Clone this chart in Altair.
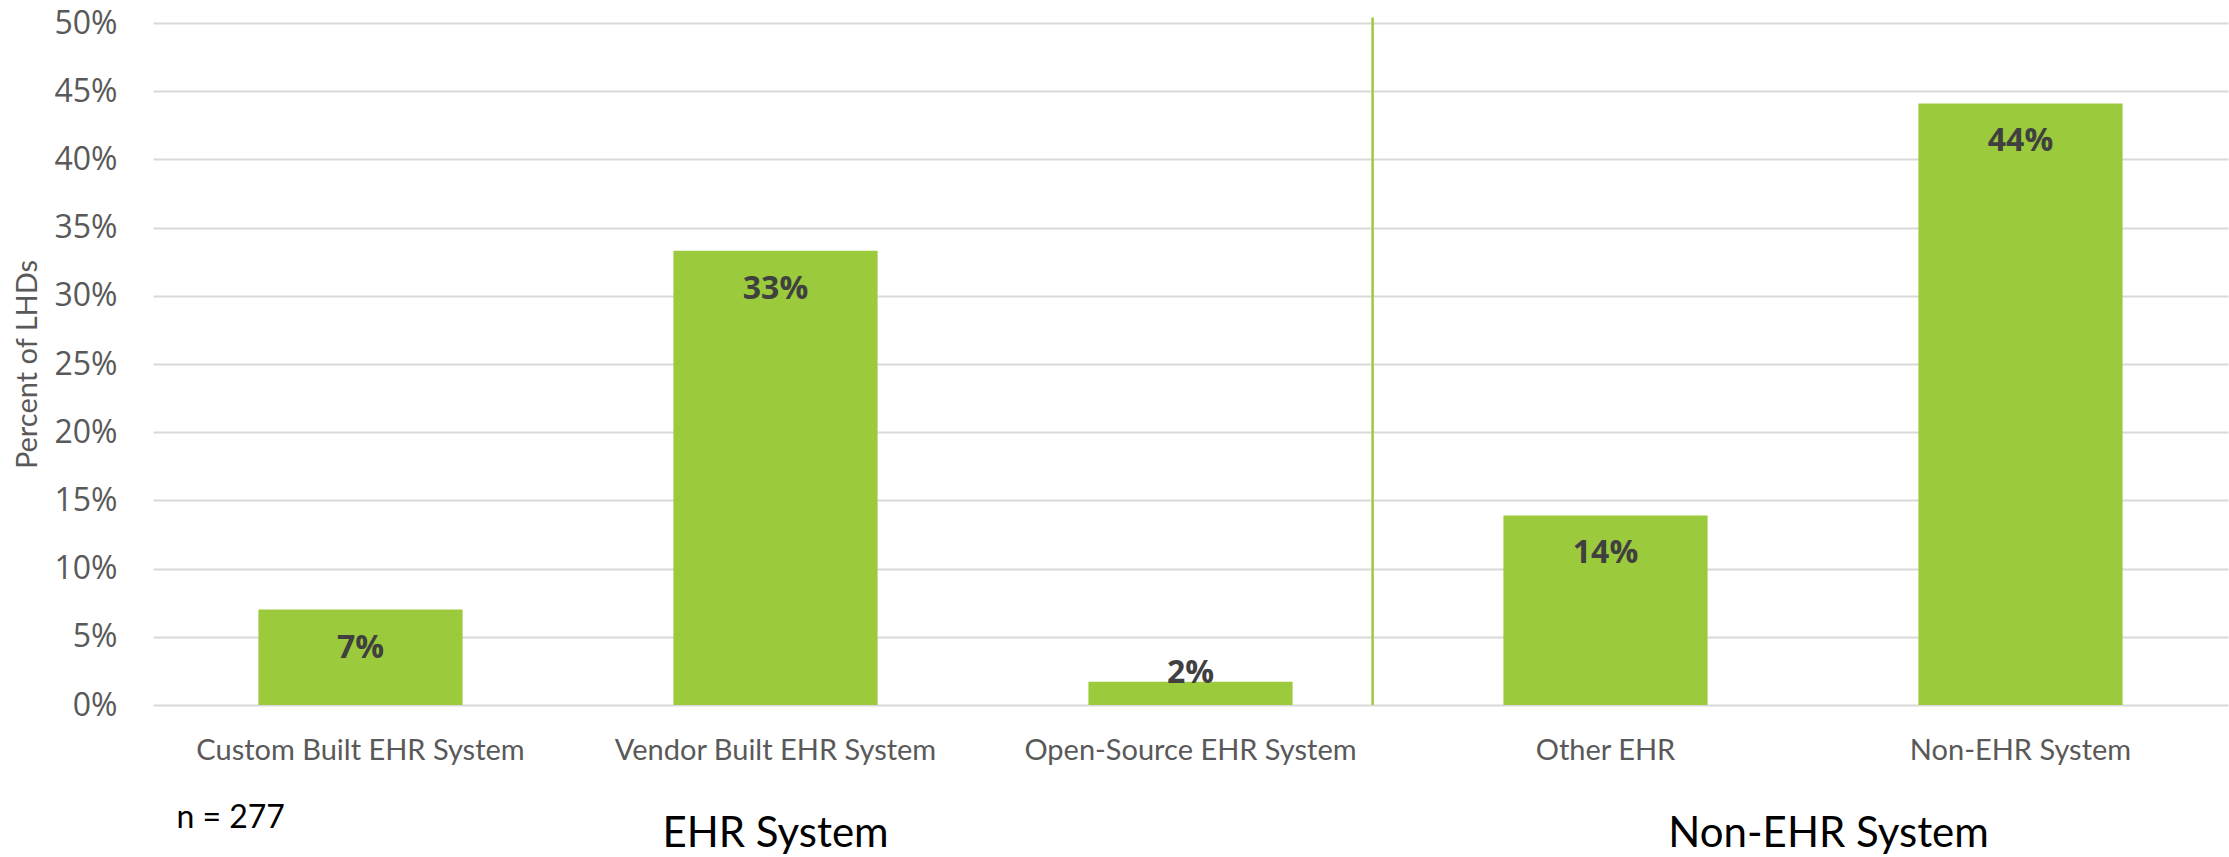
import altair as alt
import pandas as pd

# ---- data ----
categories = ["Custom Built EHR System", "Vendor Built EHR System",
              "Open-Source EHR System", "Other EHR", "Non-EHR System"]
values = [7.0, 33.3, 1.7, 13.9, 44.1]
y_ticks = [0, 5, 10, 15, 20, 25, 30, 35, 40, 45, 50]
group_labels = ["EHR System", "Non-EHR System"]
group_anchor = ["Vendor Built EHR System", "Other EHR"]
note_text = ["n = 277"]
divider_after = ["Open-Source EHR System"]

df = pd.DataFrame({"category": categories, "value": values})
df["label"] = [f"{round(v)}%" for v in values]
g_ehr = pd.DataFrame({"category": [group_anchor[0]], "text": [group_labels[0]]})
g_non = pd.DataFrame({"category": [group_anchor[1]], "text": [group_labels[1]]})
note = pd.DataFrame({"category": [categories[0]], "text": note_text})
divider = pd.DataFrame({"category": divider_after})

W, H = 2075, 682
GREEN = "#9BCB3C"
GREY = "#595959"

xscale = alt.Scale(domain=categories, paddingInner=0.508, paddingOuter=0.254)
xaxis = alt.Axis(title=None, labelFont="Lato", labelFontSize=29, labelColor=GREY,
                 labelPadding=31, ticks=False, domain=False, labelAngle=0,
                 grid=False, labelLimit=0)
yscale = alt.Scale(domain=[0, 50], nice=False, zero=True)
yaxis = alt.Axis(values=y_ticks, labelExpr="datum.value + '%'", labelFont="Open Sans",
                 labelFontSize=32, labelColor=GREY, labelPadding=36, ticks=False,
                 domain=False, gridColor="#D9D9D9", gridWidth=2,
                 title="Percent of LHDs", titleFont="Lato", titleFontSize=29,
                 titleFontWeight="normal", titleColor=GREY, titleX=-126, titleY=H / 2,
                 titleAngle=270, titleAlign="center", titleBaseline="middle")


def X(**kw):
    return alt.X("category:N", sort=categories, scale=xscale, axis=xaxis, **kw)


Y = alt.Y("value:Q", scale=yscale, axis=yaxis)

bars = alt.Chart(df).mark_bar(color=GREEN).encode(x=X(), y=Y)

lab_tall = alt.Chart(df).transform_filter("datum.value > 5").mark_text(
    font="Open Sans", fontSize=32, fontWeight="bold", color="#404040",
    baseline="alphabetic", dy=48).encode(x=X(), y=Y, text="label:N")
lab_short = alt.Chart(df).transform_filter("datum.value <= 5").mark_text(
    font="Open Sans", fontSize=32, fontWeight="bold", color="#404040",
    baseline="alphabetic", dy=1).encode(x=X(), y=Y, text="label:N")

rule = alt.Chart(divider).mark_rule(color=GREEN, strokeWidth=2.5, xOffset=80).encode(
    x=X(bandPosition=1),
    y=alt.Y(datum=50.4, scale=yscale, axis=yaxis),
    y2=alt.datum(0))

g1 = alt.Chart(g_ehr).mark_text(font="Lato", fontSize=42, color="#000000",
                                baseline="alphabetic", align="center").encode(
    x=X(), y=alt.value(824), text="text:N")
g2 = alt.Chart(g_non).mark_text(font="Lato", fontSize=42, color="#000000",
                                baseline="alphabetic", align="center",
                                xOffset=121).encode(
    x=X(bandPosition=1), y=alt.value(824), text="text:N")
n_lab = alt.Chart(note).mark_text(font="Lato", fontSize=32, color="#000000",
                                  baseline="alphabetic", align="left",
                                  xOffset=-82).encode(
    x=X(bandPosition=0), y=alt.value(805), text="text:N")

chart = alt.layer(bars, lab_tall, lab_short, rule, g1, g2, n_lab).properties(
    width=W, height=H,
    padding={"left": 153, "top": 23, "right": 1, "bottom": 152},
    autosize=alt.AutoSizeParams(type="none"),
    background="white",
).configure_view(stroke=None)

chart.save("out.html", embed_options={"renderer": "svg", "actions": False})
